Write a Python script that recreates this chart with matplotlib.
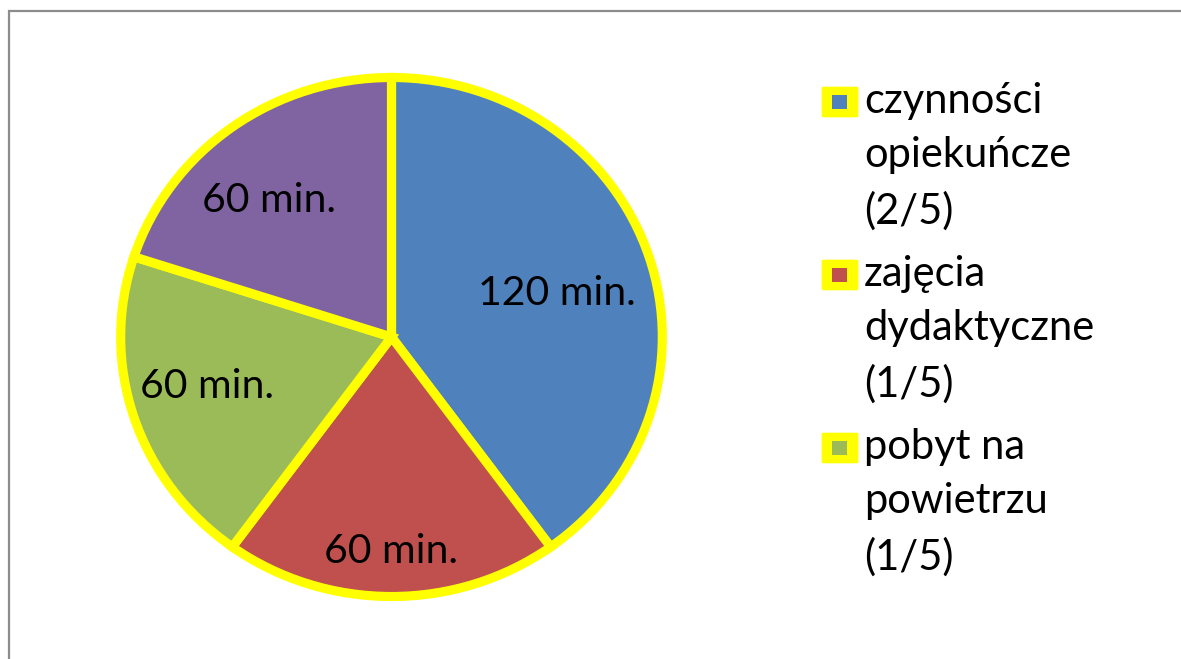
import matplotlib
matplotlib.use("Agg")
import matplotlib.pyplot as plt
from matplotlib.patches import Rectangle, FancyBboxPatch
from matplotlib.transforms import ScaledTranslation
import numpy as np

categories = ["czynności opiekuńcze", "zajęcia dydaktyczne", "pobyt na powietrzu", "pozostałe"]
values = [120, 60, 60, 60]
legend_texts = ["czynności\nopiekuńcze\n(2/5)", "zajęcia\ndydaktyczne\n(1/5)", "pobyt na\npowietrzu\n(1/5)"]
slice_labels = ["120 min.", "60 min.", "60 min.", "60 min."]
colors = ["#4F81BD", "#C0504D", "#9BBB59", "#8064A2"]

W, H = 1181, 659
fig = plt.figure(figsize=(W / 100, H / 100), dpi=100)
fig.patch.set_facecolor("white")

# outer frame (cut off at right/bottom)
fig.patches.append(Rectangle((9 / W, -0.1), 1.2, (H - 11) / H + 0.1, transform=fig.transFigure,
                             fill=False, edgecolor="#8c8c8c", linewidth=1.6))

cx, cy, RX, RY = 391.5, 337, 275.5, 264
ax = fig.add_axes([(cx - RX) / W, (H - cy - RY) / H, 2 * RX / W, 2 * RY / H])

r = 0.983
wedges, _ = ax.pie(values, colors=colors, startangle=90, counterclock=False, radius=r,
                   wedgeprops=dict(edgecolor="#FFFF00", linewidth=6.6, joinstyle="miter"))
ax.set_xlim(-1, 1)
ax.set_ylim(-1, 1)
ax.set_aspect("auto")
ax.axis("off")

dists = [0.626, 0.80, 0.69, 0.69]
angle_adj = [-1.5, 0, -3.5, 4]
shift = ScaledTranslation(0, -0.15, fig.dpi_scale_trans)
for w, lab, d, da in zip(wedges, slice_labels, dists, angle_adj):
    ang = np.deg2rad((w.theta1 + w.theta2) / 2 + da)
    ax.text(d * np.cos(ang), d * np.sin(ang), lab, ha="center", va="baseline",
            fontsize=29.5, family="Lato", color="black", transform=ax.transData + shift)

# legend (only three entries visible)
y0 = 102
step = 173
for i, txt in enumerate(legend_texts):
    yc = y0 + i * step
    fig.patches.append(FancyBboxPatch((824 / W, (H - yc - 14) / H), 32 / W, 28 / H,
                                      boxstyle="round,pad=0.002", transform=fig.transFigure,
                                      facecolor="#FFFF00", edgecolor="#FFFF00", linewidth=0))
    fig.patches.append(Rectangle((832 / W, (H - yc - 7) / H), 15 / W, 14 / H,
                                 transform=fig.transFigure, facecolor=colors[i], edgecolor="none"))
    fig.text(864 / W, (H - yc + 20) / H, txt, ha="left", va="top", fontsize=30,
             family="Lato", linespacing=1.53, color="black")

fig.savefig("out.png", dpi=100)
